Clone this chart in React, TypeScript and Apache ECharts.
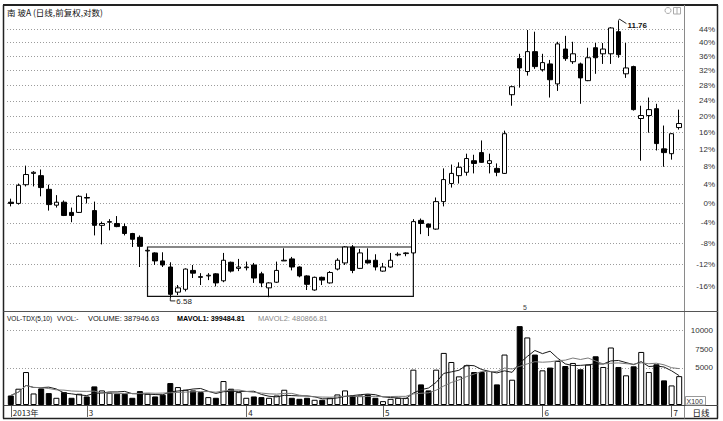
import React, { useEffect, useRef } from "react";
import * as echarts from "echarts";

const FONT = "Liberation Sans, Arial, Noto Sans CJK SC, sans-serif";
const CJK = "Noto Sans CJK SC, Liberation Sans, sans-serif";

// trading days shown (2013)
const febDays = [8, 18, 19, 20, 21, 22, 25, 26, 27, 28];
const marDays = [1, 4, 5, 6, 7, 8, 11, 12, 13, 14, 15, 18, 19, 20, 21, 22, 25, 26, 27, 28, 29];
const aprDays = [1, 2, 3, 8, 9, 10, 11, 12, 15, 16, 17, 18, 19, 22, 23, 24, 25, 26];
const mayDays = [2, 3, 6, 7, 8, 9, 10, 13, 14, 15, 16, 17, 20, 21, 22, 23, 24, 27, 28, 29, 30];
const junDays = [3, 4, 5, 6, 7, 13, 14, 17, 18, 19, 20, 21, 24, 25, 26, 27, 28];
const julDays = [1, 2];

const pad = (n: number) => (n < 10 ? "0" + n : String(n));
const dates: string[] = [
  ...febDays.map((d) => `2013-02-${pad(d)}`),
  ...marDays.map((d) => `2013-03-${pad(d)}`),
  ...aprDays.map((d) => `2013-04-${pad(d)}`),
  ...mayDays.map((d) => `2013-05-${pad(d)}`),
  ...junDays.map((d) => `2013-06-${pad(d)}`),
  ...julDays.map((d) => `2013-07-${pad(d)}`),
];

// [open, close, low, high]
const ohlc: number[][] = [
  [8.04, 8.02, 7.97, 8.10], [8.02, 8.33, 8.00, 8.36], [8.34, 8.52, 8.31, 8.68], [8.54, 8.56, 8.31, 8.58],
  [8.50, 8.29, 8.14, 8.61], [8.26, 8.00, 7.90, 8.34], [7.99, 8.04, 7.95, 8.16], [8.04, 7.82, 7.81, 8.07],
  [7.87, 7.82, 7.71, 7.95], [7.87, 8.14, 7.86, 8.16], [8.12, 8.11, 8.02, 8.19], [7.90, 7.66, 7.50, 8.05],
  [7.66, 7.69, 7.36, 7.72], [7.71, 7.72, 7.58, 7.76], [7.69, 7.64, 7.63, 7.81], [7.64, 7.53, 7.50, 7.69],
  [7.53, 7.44, 7.32, 7.54], [7.47, 7.33, 7.02, 7.50], [7.26, 7.27, 7.17, 7.30], [7.23, 7.11, 7.05, 7.24],
  [7.11, 7.05, 7.02, 7.24], [7.02, 6.63, 6.58, 7.09], [6.66, 6.72, 6.62, 6.76], [6.70, 6.99, 6.67, 7.00],
  [6.97, 6.93, 6.86, 7.05], [6.88, 6.87, 6.76, 6.93], [6.89, 6.90, 6.83, 6.93], [6.92, 6.79, 6.74, 6.93],
  [6.82, 7.12, 6.80, 7.23], [7.09, 6.96, 6.94, 7.10], [7.00, 7.02, 6.96, 7.14], [7.01, 7.02, 6.97, 7.10],
  [7.05, 6.86, 6.79, 7.08], [6.92, 6.79, 6.73, 6.95], [6.72, 6.79, 6.59, 6.80], [6.80, 6.97, 6.79, 7.10],
  [7.11, 7.12, 7.11, 7.30], [7.14, 7.02, 6.97, 7.17], [7.02, 6.89, 6.87, 7.03], [6.89, 6.77, 6.69, 6.90],
  [6.69, 6.87, 6.68, 6.88], [6.87, 6.83, 6.76, 6.88], [6.79, 6.94, 6.78, 6.96], [6.99, 7.12, 6.97, 7.15],
  [7.08, 7.32, 7.05, 7.33], [7.32, 6.97, 6.93, 7.35], [7.00, 7.23, 6.99, 7.29], [7.12, 7.08, 7.07, 7.30],
  [7.12, 7.02, 6.97, 7.21], [6.96, 7.02, 6.95, 7.08], [7.02, 7.12, 7.01, 7.23], [7.20, 7.21, 7.18, 7.24],
  [7.22, 7.23, 7.18, 7.24], [7.23, 7.72, 7.21, 7.76], [7.74, 7.69, 7.52, 7.77], [7.68, 7.63, 7.49, 7.69],
  [7.60, 8.05, 7.59, 8.12], [8.05, 8.43, 7.97, 8.63], [8.36, 8.54, 8.29, 8.70], [8.50, 8.65, 8.36, 8.74],
  [8.56, 8.81, 8.50, 8.90], [8.77, 8.72, 8.54, 8.88], [8.92, 8.74, 8.73, 9.15], [8.72, 8.77, 8.54, 8.90],
  [8.63, 8.56, 8.49, 8.72], [8.54, 9.28, 8.53, 9.34], [10.07, 10.24, 9.84, 10.26], [10.86, 10.65, 10.22, 10.97],
  [10.57, 11.02, 10.48, 11.53], [11.02, 10.68, 10.63, 11.49], [10.61, 10.77, 10.57, 10.97], [10.74, 10.39, 10.01, 10.83],
  [10.30, 11.20, 10.15, 11.25], [11.08, 10.86, 10.81, 11.39], [10.79, 10.97, 10.74, 11.25], [10.74, 10.43, 9.88, 10.77],
  [10.37, 10.88, 10.36, 11.11], [11.11, 10.88, 10.52, 11.22], [10.97, 11.08, 10.74, 11.22], [10.97, 11.58, 10.74, 11.60],
  [11.49, 10.95, 10.88, 11.76], [10.52, 10.65, 10.43, 11.22], [10.68, 9.76, 9.74, 10.70], [9.58, 9.64, 8.77, 9.84],
  [9.64, 9.76, 9.30, 10.01], [9.78, 9.09, 8.96, 9.88], [8.99, 8.92, 8.66, 9.44], [8.90, 9.28, 8.79, 9.29],
  [9.40, 9.48, 9.36, 9.76],
];

// volume, x100 shares
const volumes: number[] = [
  1280, 2190, 4430, 1550, 2230, 1600, 970, 1730, 970, 1510,
  1150, 2500, 1960, 1650, 1510, 1510, 970, 1870, 1510, 1150,
  1380, 2950, 2410, 2050, 1960, 1730, 1060, 970, 3220, 2190,
  1730, 970, 1150, 1060, 970, 1280, 2050, 970, 830, 970,
  700, 700, 970, 1420, 1960, 1280, 1280, 1420, 970, 520,
  830, 970, 970, 4750, 2770, 1960, 4750, 7000, 5780, 3850,
  5340, 4430, 4430, 4570, 2770, 6780, 3400, 10600, 9080, 6780,
  4660, 5030, 5920, 5240, 5650, 4800, 5430, 6550, 5110, 7730,
  5110, 3990, 5200, 7130, 4430, 5470, 3310, 2630, 3879,
];

const BASE_PRICE = 8.02; // 0% level
const pctTicks = [44, 40, 36, 32, 28, 24, 20, 16, 12, 8, 4, 0, -4, -8, -12, -16];
const volTickLabels = [5000, 7500, 10000];
const volGridLines = [5000, 10000];
const boxFrom = "2013-03-13";
const boxTo = "2013-05-08";
const boxTop = 7.32;
const boxBottom = 6.6;

const title = "南 玻A (日线,前复权,对数)";
const volHeader = [
  { text: "VOL-TDX(5,10)", x: 7, color: "#111", weight: "normal", size: 6.5 },
  { text: "VVOL:-", x: 57, color: "#111", weight: "normal", size: 6.5 },
  { text: "VOLUME: 387946.63", x: 88, color: "#111", weight: "normal", size: 7.5 },
  { text: "MAVOL1: 399484.81", x: 177, color: "#000", weight: "bold", size: 7.2 },
  { text: "MAVOL2: 480866.81", x: 258, color: "#8a8a8a", weight: "normal", size: 7.5 },
];

function movingAvg(arr: number[], n: number) {
  return arr.map((_, i) => {
    const s = Math.max(0, i - n + 1);
    const sl = arr.slice(s, i + 1);
    return +(sl.reduce((a, b) => a + b, 0) / sl.length).toFixed(1);
  });
}

const monthStart = dates.map((d, i) => i === 0 || d.slice(5, 7) !== dates[i - 1].slice(5, 7));

export default function App() {
  const ref = useRef<HTMLDivElement>(null);
  useEffect(() => {
    const chart = echarts.init(ref.current!, null, { renderer: "svg" });
    const ma5 = movingAvg(volumes, 5);
    const ma10 = movingAvg(volumes, 10);
    const up = ohlc.map((c) => c[1] >= c[0]);

    const option: any = {
      animation: false,
      backgroundColor: "#fff",
      textStyle: { fontFamily: FONT },
      grid: [
        { left: 7, right: 40, top: 14, height: 294 },
        { left: 7, right: 40, top: 312, height: 93 },
      ],
      xAxis: [
        { type: "category", data: dates, gridIndex: 0, boundaryGap: true, show: false },
        {
          type: "category",
          data: dates,
          gridIndex: 1,
          boundaryGap: true,
          axisLine: { show: false },
          axisTick: {
            show: true,
            alignWithLabel: true,
            interval: (i: number) => monthStart[i],
            length: 12,
            lineStyle: { color: "#666" },
          },
          axisLabel: {
            interval: (i: number) => monthStart[i],
            formatter: (v: string, i: number) => (i === 0 ? v.slice(0, 4) + "年" : String(+v.slice(5, 7))),
            align: "left",
            margin: 3,
            padding: [0, 0, 0, 2],
            fontSize: 8,
            color: "#222",
            fontFamily: CJK,
          },
        },
      ],
      yAxis: [
        { type: "log", gridIndex: 0, min: 6.4426, max: 11.9235, show: false },
        {
          type: "value",
          gridIndex: 1,
          min: 0,
          max: 12500,
          interval: 2500,
          position: "right",
          axisLine: { show: false },
          axisTick: { show: false },
          splitLine: { show: false },
          axisLabel: {
            formatter: (v: number) => (volTickLabels.includes(v) ? String(v) : ""),
            align: "right",
            margin: 30,
            fontSize: 8,
            color: "#333",
          },
        },
      ],
      series: [
        {
          type: "candlestick",
          xAxisIndex: 0,
          yAxisIndex: 0,
          data: ohlc,
          barWidth: 5,
          clip: false,
          silent: true,
          itemStyle: { color: "#fff", color0: "#000", borderColor: "#000", borderColor0: "#000", borderWidth: 1 },
          markLine: {
            z: 1,
            silent: true,
            symbol: ["none", "none"],
            label: { show: false },
            lineStyle: { type: [1, 2], color: "#9c9c9c", width: 1 },
            data: pctTicks.map((p) => ({ yAxis: BASE_PRICE * (1 + p / 100) })),
          },
          markArea: {
            silent: true,
            itemStyle: { color: "rgba(0,0,0,0)", borderColor: "#111", borderWidth: 1.2 },
            data: [[{ xAxis: boxFrom, yAxis: boxTop }, { xAxis: boxTo, yAxis: boxBottom }]],
          },
        },
        {
          type: "bar",
          xAxisIndex: 1,
          yAxisIndex: 1,
          barWidth: 6,
          silent: true,
          data: volumes.map((v, i) => ({
            value: v,
            itemStyle: up[i]
              ? { color: "#fff", borderColor: "#000", borderWidth: 1 }
              : { color: "#000", borderColor: "#000", borderWidth: 1 },
          })),
          markLine: {
            z: 1,
            silent: true,
            symbol: ["none", "none"],
            label: { show: false },
            lineStyle: { type: [1, 2], color: "#9c9c9c", width: 1 },
            data: volGridLines.map((v) => ({ yAxis: v })),
          },
        },
        {
          type: "line",
          xAxisIndex: 1,
          yAxisIndex: 1,
          data: ma5,
          symbol: "none",
          silent: true,
          z: 3,
          lineStyle: { color: "#1a1a1a", width: 1 },
        },
        {
          type: "line",
          xAxisIndex: 1,
          yAxisIndex: 1,
          data: ma10,
          symbol: "none",
          silent: true,
          z: 3,
          lineStyle: { color: "#7a7a7a", width: 1 },
        },
      ],
    };
    chart.setOption(option);

    const yPix = (v: number) => chart.convertToPixel({ yAxisIndex: 0 }, v) as unknown as number;
    const pt = (i: number, v: number) => chart.convertToPixel({ seriesIndex: 0 }, [i, v]) as unknown as number[];

    let minIdx = 0;
    let maxIdx = 0;
    ohlc.forEach((c, i) => {
      if (c[2] < ohlc[minIdx][2]) minIdx = i;
      if (c[3] > ohlc[maxIdx][3]) maxIdx = i;
    });
    const lowP = pt(minIdx, ohlc[minIdx][2]);
    const highP = pt(maxIdx, ohlc[maxIdx][3]);

    const txt = (text: string, x: number, y: number, o: any = {}) => ({
      type: "text",
      x,
      y,
      z: 120,
      silent: true,
      style: {
        text,
        fill: o.fill || "#222",
        fontSize: o.fontSize || 8,
        fontFamily: o.fontFamily || FONT,
        fontWeight: o.fontWeight || "normal",
        align: o.align || "left",
        verticalAlign: o.verticalAlign || "middle",
      },
    });
    const ln = (x1: number, y1: number, x2: number, y2: number, stroke: string, lineWidth = 1) => ({
      type: "line",
      z: 110,
      silent: true,
      shape: { x1, y1, x2, y2 },
      style: { stroke, lineWidth },
    });

    const elements: any[] = [
      // frame
      ln(3.5, 5, 3.5, 418.5, "#222", 1.5),
      ln(717.5, 5, 717.5, 418.5, "#222", 1.5),
      ln(3, 5, 718, 5, "#222", 2),
      ln(3, 418.5, 718, 418.5, "#222", 1.5),
      ln(684.5, 5, 684.5, 418.5, "#8a8a8a", 1),
      ln(3.5, 311.5, 718, 311.5, "#555", 1),
      ln(3.5, 405.5, 718, 405.5, "#444", 1),
      // top-right icons
      { type: "circle", z: 110, silent: true, shape: { cx: 668, cy: 10.5, r: 3 }, style: { fill: "none", stroke: "#aaa", lineWidth: 1 } },
      { type: "rect", z: 110, silent: true, shape: { x: 673.5, y: 7.5, width: 7, height: 6.5 }, style: { fill: "none", stroke: "#aaa", lineWidth: 1 } },
      ln(677, 7.5, 677, 14, "#aaa", 1),
      // title
      txt(title, 7, 11.5, { fontSize: 8.5, fontFamily: CJK, fill: "#111" }),
      // volume header
      ...volHeader.map((h) => txt(h.text, h.x, 318, { fontSize: h.size, fill: h.color, fontWeight: h.weight })),
      // X100 box and 日线
      { type: "rect", z: 110, silent: true, shape: { x: 685.5, y: 396.5, width: 20, height: 8.5 }, style: { fill: "#fff", stroke: "#999", lineWidth: 1 } },
      txt("X100", 686.5, 401, { fontSize: 7, fill: "#333" }),
      txt("日线", 701, 412, { fontSize: 8.5, fontFamily: CJK, fill: "#111", align: "center" }),
      txt("5", 525, 307.5, { fontSize: 7, fill: "#444", align: "center" }),
      // percent labels
      ...pctTicks.map((p) => txt(p + "%", 715, yPix(BASE_PRICE * (1 + p / 100)), { align: "right", fill: "#333" })),
      // low annotation
      {
        type: "polyline",
        z: 110,
        silent: true,
        shape: { points: [[lowP[0], lowP[1]], [lowP[0], lowP[1] + 3], [lowP[0] + 5, lowP[1] + 3]] },
        style: { stroke: "#222", lineWidth: 1, fill: "none" },
      },
      txt(ohlc[minIdx][2].toFixed(2), lowP[0] + 6, lowP[1] + 3.5, { fill: "#222" }),
      // high annotation
      {
        type: "polyline",
        z: 110,
        silent: true,
        shape: { points: [[highP[0], highP[1]], [highP[0] + 1, highP[1] - 1.5], [highP[0] + 8, highP[1] + 3]] },
        style: { stroke: "#222", lineWidth: 1, fill: "none" },
      },
      txt(ohlc[maxIdx][3].toFixed(2), highP[0] + 9, highP[1] + 4.5, { fill: "#111", fontWeight: "bold" }),
    ];

    chart.setOption({ graphic: { elements } });
    return () => chart.dispose();
  }, []);
  return <div ref={ref} style={{ position: "fixed", left: 0, top: 0, width: 723, height: 421 }} />;
}
